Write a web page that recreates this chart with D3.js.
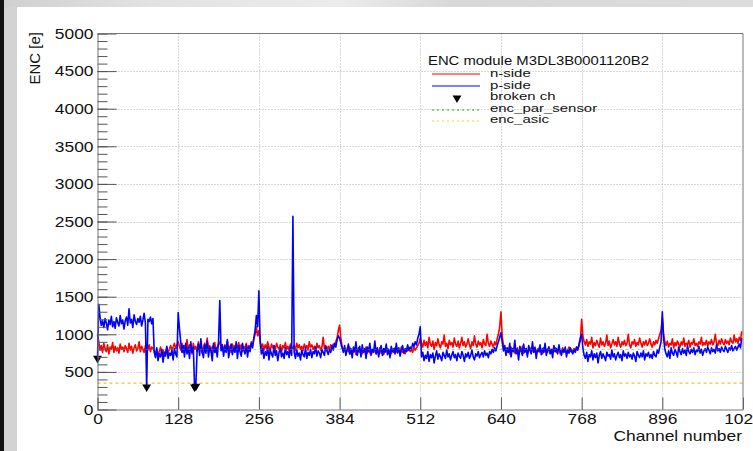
<!DOCTYPE html>
<html><head><meta charset="utf-8">
<script src="https://cdn.jsdelivr.net/npm/d3@7"></script>
<style>body{margin:0;background:#fff;overflow:hidden;} svg{display:block;font-family:"Liberation Sans",Arial,Helvetica,sans-serif;}</style>
</head><body><svg id="c" width="753" height="451"></svg>
<script>
// ---- data ----
const channelStep = 2; // one value every 2 channels
const pSide = [
680,1400,1230,1120,1180,1090,1210,1150,1060,1190,1130,1240,1100,1170,1080,1220,
1160,1110,1250,1140,1190,1070,1180,1230,1120,1340,1150,1200,1090,1260,1170,1130,
1210,1160,1240,1110,1190,1280,1150,300,1200,1170,1230,1140,1210,760,690,820,
650,740,700,800,630,760,710,840,680,750,720,790,660,810,740,700,
1290,1080,900,760,850,700,880,740,820,680,900,760,830,300,320,780,
870,720,940,770,690,860,750,910,700,830,780,650,880,760,820,700,
900,1450,780,860,710,840,760,930,690,800,870,730,820,760,900,680,
850,770,710,880,790,740,860,700,830,770,880,820,950,1050,1250,1100,
1580,900,740,810,680,770,720,830,660,790,740,700,850,720,780,650,
760,810,700,750,680,820,730,770,690,840,720,2570,760,680,800,710,
750,660,790,730,700,820,680,760,720,800,690,770,740,830,710,780,
750,690,800,760,720,840,780,730,800,760,850,790,880,830,920,980,
950,880,820,760,850,720,800,870,740,810,690,830,770,900,720,790,
840,700,860,760,810,680,830,770,880,730,800,760,910,740,820,700,
790,850,720,810,760,870,730,800,690,840,770,810,740,880,760,820,
710,790,850,750,810,770,860,790,830,800,880,840,900,860,950,1000,
1100,700,760,650,720,680,770,640,730,690,750,620,710,780,670,740,
700,650,760,720,680,790,700,740,660,720,770,690,730,650,750,710,
680,770,720,640,740,700,760,680,720,790,700,660,740,710,770,690,
730,760,700,780,720,750,690,770,740,800,760,820,780,850,900,960,
1020,900,780,850,720,820,760,880,700,810,770,920,740,800,660,840,
780,720,870,760,810,700,850,790,740,900,760,820,680,800,770,860,
730,810,760,880,720,790,830,740,800,690,850,770,810,740,860,780,
720,800,760,830,700,790,750,820,770,740,800,760,830,790,880,950,
1000,820,720,680,760,640,730,700,780,660,740,690,750,620,720,770,
680,740,700,650,760,710,730,670,790,700,740,660,720,760,690,730,
650,780,710,740,680,760,700,730,670,750,710,640,770,720,690,750,
700,780,660,740,710,760,690,730,680,770,720,700,790,750,830,900,
1300,950,800,740,700,780,680,820,750,720,800,760,700,830,770,730,
810,750,790,720,850,770,740,800,760,820,730,790,770,840,750,800,
720,780,810,760,830,790,740,820,770,800,750,860,780,810,760,830,
790,770,840,800,760,820,790,850,780,810,840,790,830,870,820,950
];
const nSide = [
1000,900,790,850,760,880,810,770,860,740,830,800,890,760,840,780,
820,750,870,800,830,770,850,810,760,880,790,840,750,820,860,780,
810,900,770,840,800,760,850,820,790,860,770,830,810,780,740,800,
720,770,830,750,790,710,780,820,760,800,850,790,830,880,810,860,
900,840,790,880,760,850,810,930,780,860,820,740,880,800,840,770,
900,820,860,750,830,880,790,950,810,850,770,840,800,890,760,830,
870,900,810,850,780,860,820,910,790,840,760,870,820,850,780,830,
890,800,860,770,840,810,880,790,850,820,900,860,940,1000,1100,980,
1050,920,820,870,790,860,810,900,830,780,870,820,850,790,880,830,
800,860,770,850,820,890,800,840,780,870,830,810,850,790,880,820,
860,800,840,780,870,820,850,790,900,830,860,800,840,770,880,820,
850,790,830,960,810,850,780,840,800,860,820,870,840,900,950,1050,
1120,950,840,780,820,750,800,770,830,740,790,760,810,730,780,820,
760,800,740,790,770,830,750,800,760,720,790,770,810,740,780,760,
820,750,790,730,800,770,810,750,780,740,800,760,820,780,750,800,
770,830,760,790,740,810,780,820,770,800,760,830,790,820,850,880,
950,880,830,920,850,900,820,960,870,840,910,800,890,850,940,860,
820,900,870,990,840,880,810,920,860,890,830,950,870,840,910,820,
880,960,850,900,830,870,940,860,810,900,850,980,870,830,910,860,
890,820,930,870,850,1000,880,840,910,870,830,900,860,940,1000,1100,
1300,980,850,790,820,760,800,740,830,780,810,750,790,820,760,800,
770,840,750,790,810,740,780,820,760,800,770,830,750,790,810,760,
780,740,820,770,800,760,830,780,750,800,770,820,760,790,810,740,
780,820,770,800,750,790,830,770,800,760,810,780,830,800,850,920,
1200,980,900,860,930,840,900,870,960,820,890,850,920,870,830,950,
860,900,840,880,990,850,910,820,870,930,860,900,840,960,870,830,
900,860,920,850,880,1000,860,820,900,870,930,840,890,860,950,880,
830,900,860,920,850,880,940,870,830,900,860,920,880,940,1000,1050,
1220,1000,900,850,910,830,880,860,940,820,890,850,910,870,830,900,
860,950,840,880,860,920,830,890,870,940,850,880,840,900,870,960,
850,890,860,920,840,900,870,930,860,900,1000,880,850,920,870,940,
890,860,930,880,910,860,950,900,880,990,900,940,880,960,920,1040
];
const brokenChannels = [0, 78, 154, 156];
const brokenValues = [680, 300, 300, 310];
const encParSensor = 800;
const encAsic = 350;
const xTicks = [0, 128, 256, 384, 512, 640, 768, 896, 1024];
const yTicks = [0, 500, 1000, 1500, 2000, 2500, 3000, 3500, 4000, 4500, 5000];
const yMinorStep = 100;
const legendTitle = "ENC module M3DL3B0001120B2";
const legendLabels = ["n-side", "p-side", "broken ch", "enc_par_sensor", "enc_asic"];
const xTitle = "Channel number";
const yTitle = "ENC [e]";

// ---- drawing ----
const SX = 1.16; // horizontal text stretch of the original picture
const svg = d3.select("#c");
const defs = svg.append("defs");
const grad = defs.append("linearGradient").attr("id", "topg").attr("x1", "0").attr("x2", "1").attr("y1", "0").attr("y2", "0");
grad.append("stop").attr("offset", "0").attr("stop-color", "#cfcfcf");
grad.append("stop").attr("offset", "0.2").attr("stop-color", "#e2e2e2");
grad.append("stop").attr("offset", "0.45").attr("stop-color", "#ececec");
grad.append("stop").attr("offset", "0.6").attr("stop-color", "#d8d8d8");
grad.append("stop").attr("offset", "1").attr("stop-color", "#dcdcdc");
svg.append("rect").attr("width", 753).attr("height", 451).attr("fill", "#d3d3d3");
svg.append("rect").attr("width", 753).attr("height", 7).attr("fill", "url(#topg)");
svg.append("rect").attr("width", 4).attr("height", 451).attr("fill", "#111");
svg.append("rect").attr("x", 17).attr("y", 7).attr("width", 736).attr("height", 444).attr("fill", "#fff");

const x = d3.scaleLinear().domain([0, 1024]).range([97.5, 743]);
const y = d3.scaleLinear().domain([0, 5000]).range([409.5, 33.5]);
const [x0, x1] = x.range();
const [y0, y1] = y.range();

// grid
const grid = svg.append("g").attr("stroke", "#b0b0b0").attr("stroke-width", 1).attr("stroke-dasharray", "1,2");
grid.selectAll("line.v").data(xTicks.slice(1, -1)).join("line")
  .attr("x1", d => Math.round(x(d)) + 0.5).attr("x2", d => Math.round(x(d)) + 0.5)
  .attr("y1", y1).attr("y2", y0);
grid.selectAll("line.h").data(yTicks.slice(1, -1)).join("line")
  .attr("y1", d => Math.round(y(d)) + 0.5).attr("y2", d => Math.round(y(d)) + 0.5)
  .attr("x1", x0).attr("x2", x1);

// reference lines
svg.append("line").attr("x1", x(0)).attr("x2", x(1024)).attr("y1", y(encAsic)).attr("y2", y(encAsic))
  .attr("stroke", "#f2c12e").attr("stroke-width", 1.2).attr("stroke-dasharray", "3,3");

// data
const line = d3.line().x((d, i) => x(i * channelStep)).y(d => y(d));
svg.append("path").datum(nSide).attr("d", line).attr("fill", "none").attr("stroke", "#ff0000").attr("stroke-width", 1.6).attr("stroke-linejoin", "round");
svg.append("path").datum(pSide).attr("d", line).attr("fill", "none").attr("stroke", "#0000ff").attr("stroke-width", 1.6).attr("stroke-linejoin", "round");

svg.append("line").attr("x1", x(0)).attr("x2", x(1024)).attr("y1", y(encParSensor)).attr("y2", y(encParSensor))
  .attr("stroke", "#33bb55").attr("stroke-width", 1).attr("stroke-dasharray", "3,3").attr("opacity", 0.5);

// broken channel markers
const tri = d3.symbol().type(d3.symbolTriangle).size(34);
svg.selectAll("path.broken").data(brokenChannels).join("path")
  .attr("d", tri).attr("fill", "#000")
  .attr("transform", (d, i) => `translate(${x(d)},${y(brokenValues[i])}) rotate(180)`);

// axes
const axisColor = "#777";
const fmt = d3.format("d");
const yMinor = d3.axisLeft(y).tickValues(d3.range(0, 5001, yMinorStep)).tickSize(-10).tickSizeOuter(0).tickFormat("");
svg.append("g").attr("transform", `translate(${x0},0)`).call(yMinor)
  .call(g => g.select(".domain").remove()).selectAll("line").attr("stroke", "#555");
const yAxis = d3.axisLeft(y).tickValues(yTicks).tickFormat(fmt).tickSize(-19).tickSizeOuter(0).tickPadding(4);
const gy = svg.append("g").attr("transform", `translate(${x0},0)`).call(yAxis);
gy.select(".domain").attr("stroke", axisColor);
gy.selectAll("line").attr("stroke", "#555");
gy.selectAll("text").attr("font-size", 15).attr("fill", "#111")
  .attr("font-family", '"Liberation Sans",Arial,sans-serif')
  .attr("transform", `scale(${SX},1)`).attr("x", -4 / SX);

const xAxis = d3.axisBottom(x).tickValues(xTicks).tickFormat(fmt).tickSize(-12).tickSizeOuter(0).tickPadding(4);
const gx = svg.append("g").attr("transform", `translate(0,${y0})`).call(xAxis);
gx.select(".domain").attr("stroke", axisColor);
gx.selectAll("line").attr("stroke", "#555");
gx.selectAll("text").attr("font-size", 15).attr("fill", "#111")
  .attr("font-family", '"Liberation Sans",Arial,sans-serif')
  .attr("transform", `scale(${SX},1)`);

// frame top / right
svg.append("path").attr("d", `M${x0},${y1}H${x1}V${y0}`).attr("fill", "none").attr("stroke", axisColor);

// titles
svg.append("text").attr("transform", "translate(40,32) rotate(-90)").attr("text-anchor", "end")
  .attr("font-size", 15).attr("fill", "#111").text(yTitle);
svg.append("text").attr("transform", `translate(742,441) scale(${SX},1)`).attr("text-anchor", "end")
  .attr("font-size", 15).attr("fill", "#111").text(xTitle);

// legend
const lg = svg.append("g");
lg.append("text").attr("transform", `translate(428,65) scale(1.16,1)`).attr("font-size", 12.8).attr("fill", "#111").text(legendTitle);
const entryBase = [77, 88.5, 100, 111.5, 123];
const entryMark = [74, 86, 98, 110, 121];
legendLabels.forEach((lab, i) => {
  lg.append("text").attr("transform", `translate(490,${entryBase[i]}) scale(1.3,1)`)
    .attr("font-size", 11.5).attr("fill", "#111").text(lab);
});
lg.append("line").attr("x1", 432).attr("x2", 480).attr("y1", entryMark[0]).attr("y2", entryMark[0]).attr("stroke", "#ff0000");
lg.append("line").attr("x1", 432).attr("x2", 480).attr("y1", entryMark[1]).attr("y2", entryMark[1]).attr("stroke", "#0000ff");
lg.append("path").attr("d", tri).attr("fill", "#000").attr("transform", `translate(457,${entryMark[2]}) rotate(180)`);
lg.append("line").attr("x1", 432).attr("x2", 480).attr("y1", entryMark[3]).attr("y2", entryMark[3]).attr("stroke", "#22aa22").attr("stroke-dasharray", "2,3");
lg.append("line").attr("x1", 432).attr("x2", 480).attr("y1", entryMark[4]).attr("y2", entryMark[4]).attr("stroke", "#f2d02e").attr("stroke-dasharray", "2,3");
</script></body></html>
